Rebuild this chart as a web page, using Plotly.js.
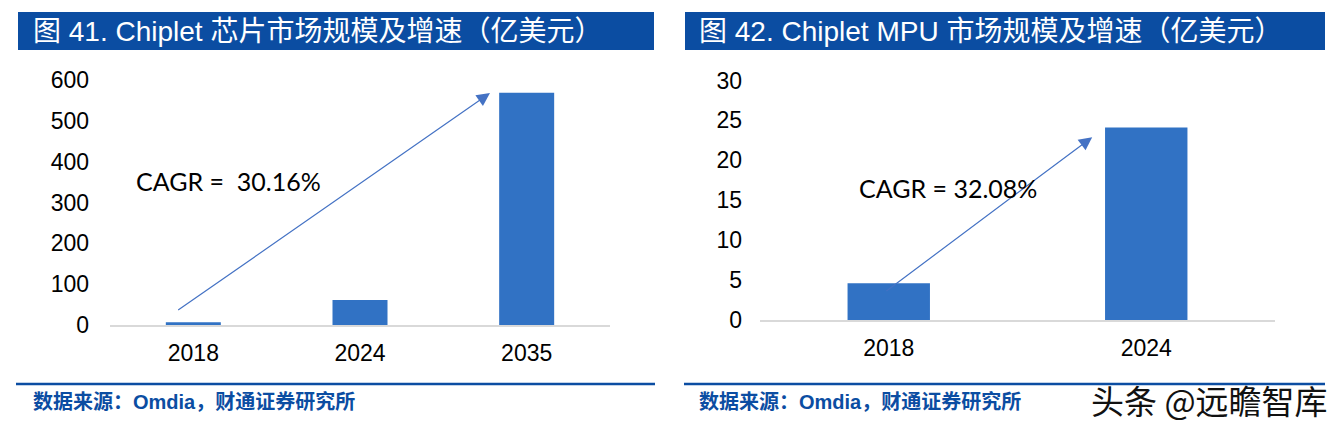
<!DOCTYPE html>
<html><head><meta charset="utf-8">
<script src="https://cdn.plot.ly/plotly-3.0.1.min.js"></script>
<style>body{margin:0;padding:0;background:#fff}#chart{width:1340px;height:426px}</style>
</head><body><div id="chart"></div>
<script>
// Figure 41: Chiplet chip market size (100M USD)
const cats41 = ['2018', '2024', '2035'];
const vals41 = [7, 61, 569];
const ticks41 = [0, 100, 200, 300, 400, 500, 600];
const title41 = '图 41. Chiplet 芯片市场规模及增速（亿美元）';
const cagr41 = 'CAGR =  30.16%';

// Figure 42: Chiplet MPU market size (100M USD)
const cats42 = ['2018', '2024'];
const vals42 = [4.6, 24.1];
const ticks42 = [0, 5, 10, 15, 20, 25, 30];
const title42 = '图 42. Chiplet MPU 市场规模及增速（亿美元）';
const cagr42 = 'CAGR = 32.08%';

const source = '数据来源：Omdia，财通证券研究所';
const watermark = '头条 @远瞻智库';

const W = 1340, H = 426;
const px = x => x / W;
const py = y => (H - y) / H;

const BAR = '#3172C4';
const BLUE = '#0B4DA2';
const ARROW = '#4472C4';
const tickFont = {family: 'Liberation Sans, Arial, sans-serif', size: 23, color: '#000'};
const cjk = 'Liberation Sans, "Noto Sans CJK SC", sans-serif';

const traces = [
  {type: 'bar', x: cats41, y: vals41, xaxis: 'x', yaxis: 'y', marker: {color: BAR}, width: 0.33, hoverinfo: 'none'},
  {type: 'bar', x: cats42, y: vals42, xaxis: 'x2', yaxis: 'y2', marker: {color: BAR}, width: 0.32, hoverinfo: 'none'}
];

const xcommon = {type: 'category', showgrid: false, zeroline: false, showline: true, linecolor: '#D9D9D9', linewidth: 2,
  ticks: '', tickfont: tickFont, ticklabelstandoff: 6, fixedrange: true};
const ycommon = {showgrid: false, zeroline: false, showline: false, ticks: '', tickfont: tickFont, tickmode: 'array', fixedrange: true};

const layout = {
  width: W, height: H,
  margin: {l: 0, r: 0, t: 0, b: 0},
  paper_bgcolor: '#fff', plot_bgcolor: 'rgba(0,0,0,0)',
  showlegend: false,
  xaxis: Object.assign({}, xcommon, {domain: [px(110), px(610)], anchor: 'y', range: [-0.5, 2.5]}),
  yaxis: Object.assign({}, ycommon, {domain: [py(325), py(80)], anchor: 'x', range: [0, 600], tickvals: ticks41, ticklabelstandoff: 20}),
  xaxis2: Object.assign({}, xcommon, {domain: [px(760), px(1275)], anchor: 'y2', range: [-0.5, 1.5]}),
  yaxis2: Object.assign({}, ycommon, {domain: [py(320), py(80.5)], anchor: 'x2', range: [0, 30], tickvals: ticks42, ticklabelstandoff: 17}),
  shapes: [
    {type: 'rect', xref: 'paper', yref: 'paper', x0: px(18), x1: px(654), y0: py(50), y1: py(12), fillcolor: BLUE, line: {width: 0}},
    {type: 'rect', xref: 'paper', yref: 'paper', x0: px(685), x1: px(1325), y0: py(50), y1: py(12), fillcolor: BLUE, line: {width: 0}},
    {type: 'line', xref: 'paper', yref: 'paper', x0: px(16), x1: px(655), y0: py(384), y1: py(384), line: {color: BLUE, width: 2.5}},
    {type: 'line', xref: 'paper', yref: 'paper', x0: px(684), x1: px(1325), y0: py(384), y1: py(384), line: {color: BLUE, width: 2.5}}
  ],
  annotations: [
    {xref: 'paper', yref: 'paper', x: px(31), y: py(31), xanchor: 'left', yanchor: 'middle', showarrow: false,
     text: title41, font: {family: cjk, size: 28, color: '#fff'}},
    {xref: 'paper', yref: 'paper', x: px(697), y: py(31), xanchor: 'left', yanchor: 'middle', showarrow: false,
     text: title42, font: {family: cjk, size: 28, color: '#fff'}},
    // arrows
    {xref: 'x', yref: 'y', axref: 'x', ayref: 'y', x: 1.78, y: 568, ax: -0.1, ay: 34, showarrow: true,
     arrowhead: 2, arrowsize: 2.2, arrowwidth: 1.2, arrowcolor: ARROW, text: ''},
    {xref: 'x2', yref: 'y2', axref: 'x2', ayref: 'y2', x: 0.79, y: 22.9, ax: -0.015, ay: 3.5, showarrow: true,
     arrowhead: 2, arrowsize: 2.2, arrowwidth: 1.2, arrowcolor: ARROW, text: ''},
    {xref: 'paper', yref: 'paper', x: px(134), y: py(181), xanchor: 'left', yanchor: 'middle', showarrow: false,
     text: cagr41, font: {family: 'Lato, Carlito, sans-serif', size: 25, color: '#000'}},
    {xref: 'paper', yref: 'paper', x: px(857), y: py(188), xanchor: 'left', yanchor: 'middle', showarrow: false,
     text: cagr42, font: {family: 'Lato, Carlito, sans-serif', size: 25, color: '#000'}},
    {xref: 'paper', yref: 'paper', x: px(31), y: py(401), xanchor: 'left', yanchor: 'middle', showarrow: false,
     text: '<b>' + source + '</b>', font: {family: cjk, size: 20, color: BLUE}},
    {xref: 'paper', yref: 'paper', x: px(697), y: py(401), xanchor: 'left', yanchor: 'middle', showarrow: false,
     text: '<b>' + source + '</b>', font: {family: cjk, size: 20, color: BLUE}},
    {xref: 'paper', yref: 'paper', x: px(1330), y: py(400), xanchor: 'right', yanchor: 'middle', showarrow: false,
     text: watermark, font: {family: '"Noto Sans CJK SC", sans-serif', size: 33, color: '#111'}}
  ]
};

Plotly.newPlot('chart', traces, layout, {staticPlot: true, displayModeBar: false});
</script>
</body></html>
